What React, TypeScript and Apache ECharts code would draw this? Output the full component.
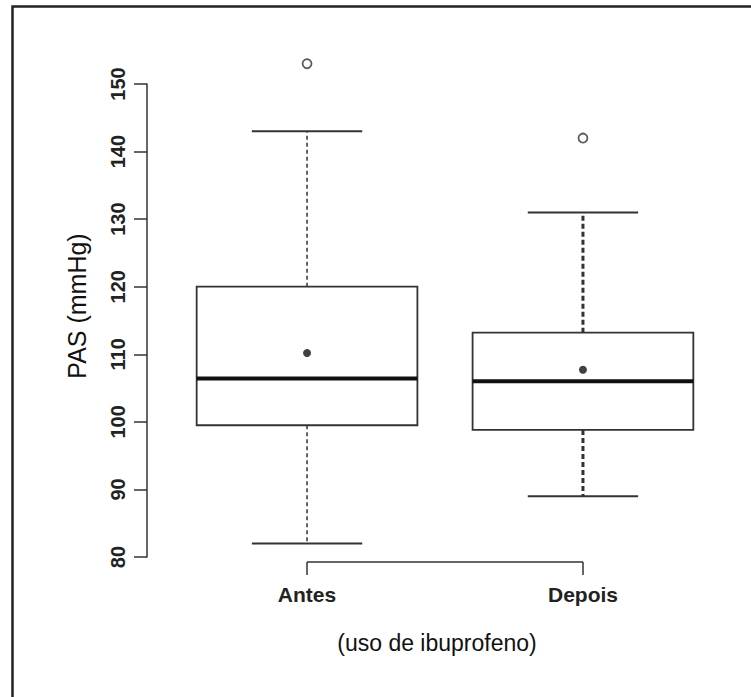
import React, { useEffect, useRef } from "react";
import * as echarts from "echarts";

// ---- data ----
const categories = ["Antes", "Depois"];
const whiskerLow = [82, 89];
const q1 = [99.5, 98.8];
const medians = [106.4, 106.0];
const q3 = [120, 113.2];
const whiskerHigh = [143, 131];
const means = [110.2, 107.7];
const outliers = [[153], [142]];
const yMin = 80;
const yMax = 150;
const yStep = 10;
const yTitle = "PAS (mmHg)";
const xTitle = "(uso de ibuprofeno)";

const FONT = '"Liberation Sans", Arial, sans-serif';

export default function App() {
  const ref = useRef<HTMLDivElement>(null);

  useEffect(() => {
    if (!ref.current) return;
    const chart = echarts.init(ref.current, null, { renderer: "svg" });

    const boxData = categories.map((_, i) => [
      i + 1,
      whiskerLow[i],
      q1[i],
      medians[i],
      q3[i],
      whiskerHigh[i],
    ]);
    const meanData = categories.map((_, i) => [i + 1, means[i]]);
    const outlierData: number[][] = [];
    outliers.forEach((arr, i) => arr.forEach((v) => outlierData.push([i + 1, v])));

    const option: any = {
      animation: false,
      backgroundColor: "#ffffff",
      grid: { left: 147, right: 8, top: 84, bottom: 140, containLabel: false, outerBoundsMode: "none" },
      xAxis: {
        type: "value",
        min: 0.42,
        max: 2.58,
        offset: 5,
        axisLine: { show: false },
        splitLine: { show: false },
        axisTick: {
          show: true,
          customValues: [1, 2],
          length: 13,
          lineStyle: { color: "#333", width: 1.5 },
        },
        axisLabel: {
          customValues: [1, 2],
          formatter: (v: number) => categories[Math.round(v) - 1] ?? "",
          fontFamily: FONT,
          fontWeight: "bold",
          fontSize: 21,
          color: "#222",
          margin: 22,
        },
      },
      yAxis: {
        type: "value",
        min: yMin,
        max: yMax,
        interval: yStep,
        axisLine: { show: true, lineStyle: { color: "#333", width: 1.5 } },
        axisTick: { show: true, inside: false, length: 13, lineStyle: { color: "#333", width: 1.5 } },
        splitLine: { show: false },
        axisLabel: {
          rotate: 90,
          margin: 19,
          fontFamily: FONT,
          fontWeight: "bold",
          fontSize: 20,
          color: "#222",
        },
      },
      graphic: [
        {
          type: "polyline",
          silent: true,
          shape: { points: [[12.5, 697], [12.5, 6.5], [751, 6.5]] },
          style: { stroke: "#222", lineWidth: 2.5, fill: null },
        },
        {
          type: "text",
          x: 77,
          y: 306,
          rotation: Math.PI / 2,
          style: {
            text: yTitle,
            fontFamily: FONT,
            fontSize: 25,
            fill: "#111",
            align: "center",
            verticalAlign: "middle",
          },
        },
        {
          type: "text",
          x: 437,
          y: 643,
          style: {
            text: xTitle,
            fontFamily: FONT,
            fontSize: 23,
            fill: "#111",
            align: "center",
            verticalAlign: "middle",
          },
        },
      ],
      series: [
        {
          type: "custom",
          name: "box",
          clip: false,
          data: boxData,
          encode: { x: 0, y: [1, 2, 3, 4, 5] },
          renderItem: (params: any, api: any) => {
            const x = api.value(0);
            const pMin = api.coord([x, api.value(1)]);
            const pQ1 = api.coord([x, api.value(2)]);
            const pMed = api.coord([x, api.value(3)]);
            const pQ3 = api.coord([x, api.value(4)]);
            const pMax = api.coord([x, api.value(5)]);
            const halfBox = api.size([0.4, 0])[0];
            const capHalf = api.size([0.2, 0])[0];
            const thick = params.dataIndex === 1;
            const whiskerStyle = {
              stroke: "#333",
              lineWidth: thick ? 3 : 1.5,
              lineDash: thick ? [5, 3] : [4, 3],
            };
            const cx = pMed[0];
            return {
              type: "group",
              children: [
                {
                  type: "line",
                  shape: { x1: cx, y1: pQ3[1], x2: cx, y2: pMax[1] },
                  style: whiskerStyle,
                },
                {
                  type: "line",
                  shape: { x1: cx, y1: pQ1[1], x2: cx, y2: pMin[1] },
                  style: whiskerStyle,
                },
                {
                  type: "line",
                  shape: { x1: cx - capHalf, y1: pMax[1], x2: cx + capHalf, y2: pMax[1] },
                  style: { stroke: "#333", lineWidth: 2 },
                },
                {
                  type: "line",
                  shape: { x1: cx - capHalf, y1: pMin[1], x2: cx + capHalf, y2: pMin[1] },
                  style: { stroke: "#333", lineWidth: 2 },
                },
                {
                  type: "rect",
                  shape: {
                    x: cx - halfBox,
                    y: pQ3[1],
                    width: halfBox * 2,
                    height: pQ1[1] - pQ3[1],
                  },
                  style: { fill: "#ffffff", stroke: "#333", lineWidth: 1.8 },
                },
                {
                  type: "line",
                  shape: { x1: cx - halfBox, y1: pMed[1], x2: cx + halfBox, y2: pMed[1] },
                  style: { stroke: "#111", lineWidth: 4 },
                },
              ],
            };
          },
        },
        {
          type: "custom",
          name: "xaxis",
          clip: false,
          data: [[1, 2]],
          renderItem: (_params: any, api: any) => {
            const a = api.coord([api.value(0), yMin]);
            const b = api.coord([api.value(1), yMin]);
            return {
              type: "line",
              shape: { x1: a[0], y1: a[1] + 5, x2: b[0], y2: b[1] + 5 },
              style: { stroke: "#333", lineWidth: 1.5 },
            };
          },
        },
        {
          type: "scatter",
          name: "mean",
          clip: false,
          data: meanData,
          symbol: "circle",
          symbolSize: 8,
          itemStyle: { color: "#111" },
          z: 5,
        },
        {
          type: "scatter",
          name: "outliers",
          clip: false,
          data: outlierData,
          symbol: "circle",
          symbolSize: 9,
          itemStyle: { color: "#ffffff", borderColor: "#333", borderWidth: 1.8 },
          z: 5,
        },
      ],
    };

    chart.setOption(option);
    return () => chart.dispose();
  }, []);

  return (
    <div
      ref={ref}
      style={{ position: "fixed", left: 0, top: 0, width: 751, height: 697, background: "#fff" }}
    />
  );
}
